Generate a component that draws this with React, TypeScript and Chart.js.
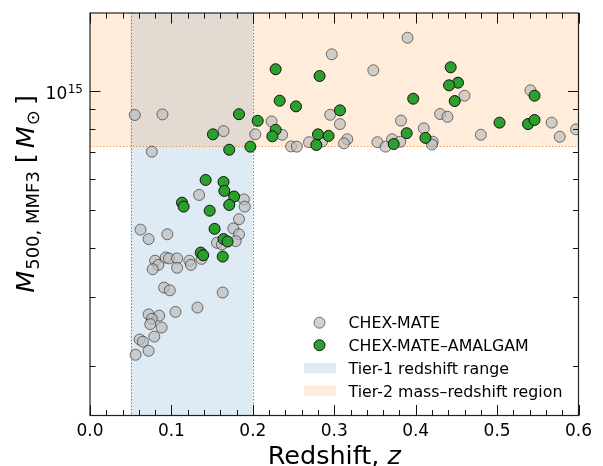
import { useEffect, useRef } from 'react';
import { Chart, registerables } from 'chart.js';

Chart.register(...registerables);

// ---------------- data (z, M500 in units of 1e14 Msun) ----------------
const chexZ = [
  0.055, 0.089, 0.076, 0.164, 0.203, 0.223, 0.297, 0.348, 0.295, 0.307,
  0.382, 0.236, 0.247, 0.254, 0.269, 0.285, 0.316, 0.312, 0.353, 0.363,
  0.371, 0.390, 0.460, 0.430, 0.439, 0.410, 0.421, 0.420, 0.480, 0.541,
  0.567, 0.577, 0.597, 0.134, 0.189, 0.190, 0.183, 0.062, 0.072, 0.095,
  0.176, 0.183, 0.179, 0.156, 0.162, 0.137, 0.080, 0.084, 0.077, 0.093,
  0.097, 0.107, 0.107, 0.122, 0.124, 0.091, 0.098, 0.163, 0.132, 0.105,
  0.072, 0.085, 0.076, 0.074, 0.088, 0.079, 0.061, 0.065, 0.072, 0.056,
  0.381,
];
const chexM = [
  8.70, 8.73, 7.02, 7.92, 7.77, 8.38, 12.41, 11.30, 8.71, 8.25,
  8.42, 7.75, 7.24, 7.23, 7.42, 7.45, 7.55, 7.37, 7.42, 7.23,
  7.55, 13.67, 9.74, 8.75, 8.61, 8.05, 7.44, 7.32, 7.75, 10.05,
  8.32, 7.66, 8.00, 5.45, 5.31, 5.09, 4.73, 4.45, 4.21, 4.33,
  4.48, 4.33, 4.16, 4.12, 4.08, 3.75, 3.71, 3.62, 3.53, 3.78,
  3.76, 3.76, 3.56, 3.71, 3.62, 3.17, 3.12, 3.08, 2.82, 2.75,
  2.71, 2.69, 2.64, 2.56, 2.51, 2.38, 2.34, 2.31, 2.19, 2.14,
  7.44,
];
const amalZ = [
  0.183, 0.151, 0.171, 0.197, 0.206, 0.228, 0.282, 0.233, 0.253, 0.307,
  0.228, 0.224, 0.280, 0.293, 0.278, 0.373, 0.443, 0.452, 0.441, 0.448,
  0.397, 0.389, 0.412, 0.503, 0.546, 0.538, 0.546, 0.142, 0.164, 0.165,
  0.177, 0.113, 0.115, 0.171, 0.147, 0.153, 0.164, 0.169, 0.136, 0.139,
  0.163,
];
const amalM = [
  8.74, 7.77, 7.10, 7.23, 8.41, 11.37, 10.93, 9.46, 9.15, 8.94,
  7.98, 7.68, 7.77, 7.70, 7.30, 7.34, 11.50, 10.51, 10.35, 9.44,
  9.57, 7.82, 7.61, 8.32, 9.74, 8.25, 8.45, 5.95, 5.88, 5.58,
  5.40, 5.21, 5.09, 5.14, 4.97, 4.47, 4.21, 4.15, 3.89, 3.83,
  3.80,
];

const tier1Range = [0.05, 0.2];
const tier2MassMin = 7.25;

const xMajorTicks = [0, 0.1, 0.2, 0.3, 0.4, 0.5, 0.6];
const xTickLabels = ['0.0', '0.1', '0.2', '0.3', '0.4', '0.5', '0.6'];
const xMinorTicks = [
  0.02, 0.04, 0.06, 0.08, 0.12, 0.14, 0.16, 0.18, 0.22, 0.24, 0.26, 0.28,
  0.32, 0.34, 0.36, 0.38, 0.42, 0.44, 0.46, 0.48, 0.52, 0.54, 0.56, 0.58,
];
const yMajorTicks = [10];
const yTickBase = ['10'];
const yTickExp = ['15'];
const yMinorTicks = [2, 3, 4, 5, 6, 7, 8, 9];

const legendLabels = ['CHEX-MATE', 'CHEX-MATE\u2013AMALGAM', 'Tier-1 redshift range', 'Tier-2 mass\u2013redshift region'];

const FONT = '"DejaVu Sans", "Noto Sans", sans-serif';
const GRAY_FILL = 'rgba(188,188,188,0.68)';
const GRAY_EDGE = 'rgba(30,30,30,0.6)';
const GREEN_FILL = '#2ca02c';
const GREEN_EDGE = '#111111';
const BLUE_SHADE = 'rgba(31,119,180,0.15)';
const ORANGE_SHADE = 'rgba(255,127,14,0.15)';

const decor = {
  id: 'decor',
  beforeDatasetsDraw(chart: any) {
    const { ctx, chartArea: a, scales } = chart;
    const x = scales.x;
    const y = scales.y;
    ctx.save();
    const x1 = x.getPixelForValue(tier1Range[0]);
    const x2 = x.getPixelForValue(tier1Range[1]);
    const yT = y.getPixelForValue(tier2MassMin);
    ctx.fillStyle = BLUE_SHADE;
    ctx.fillRect(x1, a.top, x2 - x1, a.bottom - a.top);
    ctx.fillStyle = ORANGE_SHADE;
    ctx.fillRect(a.left, a.top, a.right - a.left, yT - a.top);
    ctx.lineWidth = 1;
    ctx.setLineDash([1.3, 2]);
    ctx.strokeStyle = 'rgba(31,119,180,0.9)';
    for (const xv of [x1, x2]) {
      ctx.beginPath();
      ctx.moveTo(Math.round(xv) + 0.5, a.top);
      ctx.lineTo(Math.round(xv) + 0.5, a.bottom);
      ctx.stroke();
    }
    ctx.strokeStyle = 'rgba(255,127,14,0.9)';
    ctx.beginPath();
    ctx.moveTo(a.left, Math.round(yT) + 0.5);
    ctx.lineTo(a.right, Math.round(yT) + 0.5);
    ctx.stroke();
    ctx.restore();
  },
  afterDraw(chart: any) {
    const { ctx, chartArea: a, scales } = chart;
    const x = scales.x;
    const y = scales.y;
    ctx.save();
    ctx.setLineDash([]);
    ctx.strokeStyle = '#222';
    ctx.lineWidth = 1.2;
    ctx.strokeRect(a.left, a.top, a.right - a.left, a.bottom - a.top);
    ctx.lineWidth = 1;
    ctx.strokeStyle = '#111';
    const MAJ = 10.5;
    const MIN = 5.5;
    const xt = (vals: number[], len: number) => {
      for (const v of vals) {
        const px = Math.round(x.getPixelForValue(v)) + 0.5;
        ctx.beginPath();
        ctx.moveTo(px, a.bottom);
        ctx.lineTo(px, a.bottom - len);
        ctx.moveTo(px, a.top);
        ctx.lineTo(px, a.top + len);
        ctx.stroke();
      }
    };
    const yt = (vals: number[], len: number) => {
      for (const v of vals) {
        const py = Math.round(y.getPixelForValue(v)) + 0.5;
        ctx.beginPath();
        ctx.moveTo(a.left, py);
        ctx.lineTo(a.left + len, py);
        ctx.moveTo(a.right, py);
        ctx.lineTo(a.right - len, py);
        ctx.stroke();
      }
    };
    xt(xMajorTicks, MAJ);
    xt(xMinorTicks, MIN);
    yt(yMajorTicks, MAJ);
    yt(yMinorTicks, MIN);

    // tick labels
    ctx.fillStyle = '#000';
    ctx.font = `17px ${FONT}`;
    ctx.textAlign = 'center';
    ctx.textBaseline = 'alphabetic';
    xMajorTicks.forEach((v, i) => {
      ctx.fillText(xTickLabels[i], x.getPixelForValue(v), 436);
    });
    yMajorTicks.forEach((v, i) => {
      const py = y.getPixelForValue(v);
      ctx.font = `12px ${FONT}`;
      const wExp = ctx.measureText(yTickExp[i]).width;
      const right = a.left - 7;
      ctx.textAlign = 'left';
      ctx.fillText(yTickExp[i], right - wExp, py + 1.5);
      ctx.font = `17px ${FONT}`;
      ctx.textAlign = 'right';
      ctx.fillText(yTickBase[i], right - wExp - 0.5, py + 8);
    });

    // x title
    const TF = 25.5;
    ctx.textAlign = 'left';
    ctx.font = `${TF}px ${FONT}`;
    const t1 = 'Redshift, ';
    const w1 = ctx.measureText(t1).width;
    ctx.font = `italic ${TF}px ${FONT}`;
    const w2 = ctx.measureText('z').width;
    const cx = (a.left + a.right) / 2;
    const sx = cx - (w1 + w2) / 2;
    ctx.font = `${TF}px ${FONT}`;
    ctx.fillText(t1, sx, 463.5);
    ctx.font = `italic ${TF}px ${FONT}`;
    ctx.fillText('z', sx + w1, 463.5);

    // y title (rotated), pieces with gaps
    const SF = 18;
    const parts = [
      { t: 'M', f: `italic ${TF}px ${FONT}`, dy: 0, gap: 1 },
      { t: '500, MMF3', f: `${SF}px ${FONT}`, dy: 5, gap: 8 },
      { t: '[', f: `${TF}px ${FONT}`, dy: 0, gap: 5 },
      { t: 'M', f: `italic ${TF}px ${FONT}`, dy: 0, gap: 1 },
      { t: '\u2299', f: `${SF}px ${FONT}`, dy: 5, gap: 5 },
      { t: ']', f: `${TF}px ${FONT}`, dy: 0, gap: 0 },
    ];
    let total = 0;
    const widths: number[] = [];
    for (const p of parts) {
      ctx.font = p.f;
      const w = ctx.measureText(p.t).width;
      widths.push(w);
      total += w + p.gap;
    }
    ctx.save();
    ctx.translate(34, 194);
    ctx.rotate(-Math.PI / 2);
    let u = -total / 2;
    parts.forEach((p, i) => {
      ctx.font = p.f;
      ctx.fillText(p.t, u, p.dy);
      u += widths[i] + p.gap;
    });
    ctx.restore();

    // legend
    const lx = 319.5;
    const tx = 348.5;
    const rows = [322.7, 345.2, 368.2, 390.8];
    ctx.lineWidth = 1;
    ctx.beginPath();
    ctx.arc(lx, rows[0], 5.5, 0, Math.PI * 2);
    ctx.fillStyle = GRAY_FILL;
    ctx.fill();
    ctx.strokeStyle = GRAY_EDGE;
    ctx.stroke();
    ctx.beginPath();
    ctx.arc(lx, rows[1], 5.5, 0, Math.PI * 2);
    ctx.fillStyle = GREEN_FILL;
    ctx.fill();
    ctx.strokeStyle = GREEN_EDGE;
    ctx.stroke();
    ctx.fillStyle = BLUE_SHADE;
    ctx.fillRect(304, rows[2] - 5.2, 32, 10.4);
    ctx.fillStyle = ORANGE_SHADE;
    ctx.fillRect(304, rows[3] - 5.2, 32, 10.4);
    ctx.fillStyle = '#000';
    ctx.font = `15.8px ${FONT}`;
    ctx.textAlign = 'left';
    legendLabels.forEach((l, i) => {
      ctx.fillText(l, tx, rows[i] + 5.7);
    });
    ctx.restore();
  },
};

export default function App() {
  const ref = useRef<HTMLCanvasElement | null>(null);
  useEffect(() => {
    document.body.style.margin = '0';
    const canvas = ref.current;
    if (!canvas) return;
    const chart = new Chart(canvas, {
      type: 'scatter',
      data: {
        datasets: [
          {
            label: 'CHEX-MATE',
            data: chexZ.map((z, i) => ({ x: z, y: chexM[i] })),
            pointRadius: 5.5,
            pointHoverRadius: 5.5,
            backgroundColor: GRAY_FILL,
            borderColor: GRAY_EDGE,
            borderWidth: 1,
            order: 2,
          },
          {
            label: 'CHEX-MATE\u2013AMALGAM',
            data: amalZ.map((z, i) => ({ x: z, y: amalM[i] })),
            pointRadius: 5.5,
            pointHoverRadius: 5.5,
            backgroundColor: GREEN_FILL,
            borderColor: GREEN_EDGE,
            borderWidth: 1,
            order: 1,
          },
        ],
      },
      options: {
        animation: false,
        responsive: false,
        devicePixelRatio: 1,
        events: [],
        layout: { padding: { left: 90, top: 13, right: 24.5, bottom: 50.5 } },
        scales: {
          x: { type: 'linear', min: 0, max: 0.6, display: false },
          y: { type: 'logarithmic', min: 1.5, max: 15.8, display: false },
        },
        plugins: { legend: { display: false }, tooltip: { enabled: false } },
      },
      plugins: [decor],
    } as any);
    return () => chart.destroy();
  }, []);
  return (
    <div style={{ width: 603, height: 466, background: '#fff' }}>
      <canvas ref={ref} width={603} height={466} style={{ display: 'block' }} />
    </div>
  );
}
